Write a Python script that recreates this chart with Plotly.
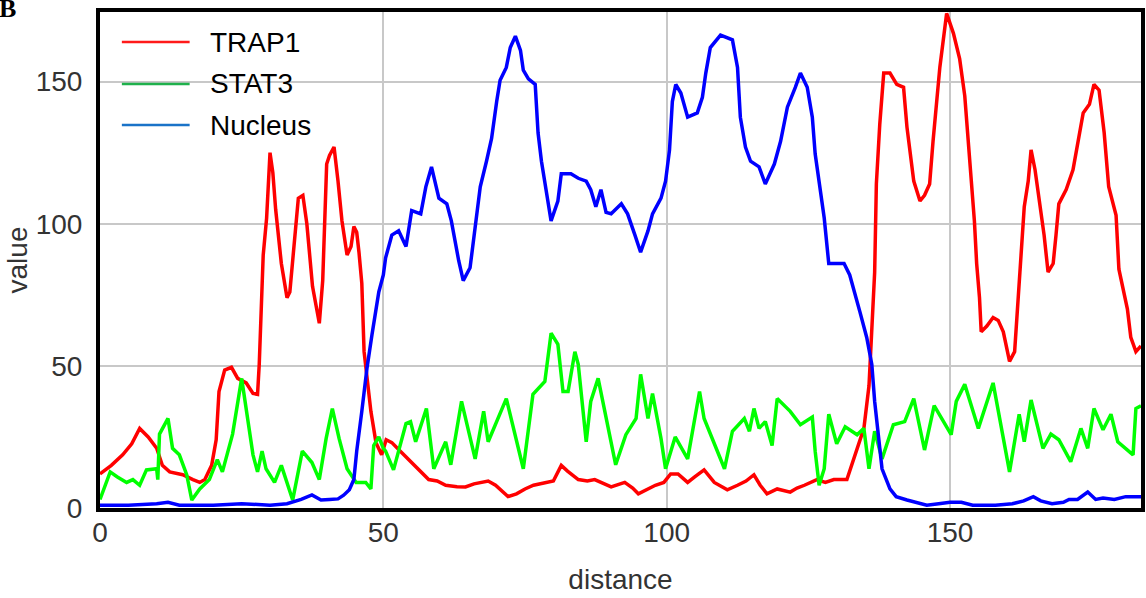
import plotly.graph_objects as go

# ---- profile data: distance along the line scan vs. intensity value ----
trap1_d = [0, 2, 4, 5.6, 7, 8.5, 10, 11, 12.3, 14.6, 16.4, 17.6, 18.5, 19.7, 20.5, 21, 22, 23.2, 24.3, 25.8,
           27, 27.8, 28.1, 28.5, 28.8, 29.4, 30, 30.5, 31, 32, 33, 33.5, 34.3, 35, 35.8, 36.5, 37.5, 38.7, 39.3, 40,
           40.5, 41.3, 42, 42.7, 43.6, 44.3, 44.8, 45.3, 45.7, 46.2, 46.6, 47.8, 48.7, 49.7, 50.5, 51.5, 53, 55, 56.5, 58,
           59.5, 61, 63, 64.5, 66, 67.3, 68.5, 69.8, 71, 72, 73.5, 75, 76.5, 78.5, 80, 81.4, 82.5, 84.4, 86, 87.3,
           89, 90.2, 92.6, 94, 95, 96.5, 98, 99.5, 100.7, 102, 103.7, 105, 106.6, 108.4, 110.7, 112.5, 114, 115.4, 116.5, 117.7,
           119.5, 121.8, 123, 124.3, 126.5, 128, 129.5, 131.8, 133, 134.8, 135.7, 136.2, 136.7, 137, 137.6, 138.3, 139.4, 140.6, 141.8, 142.4,
           143.6, 144.7, 145.5, 146.4, 147, 148.2, 149.4, 150.6, 151.7, 152.6, 153.1, 153.8, 154.3, 154.7, 155.2, 155.5, 156.5, 157.6, 158.5, 159.4,
           160.5, 161.4, 162, 162.6, 163.1, 163.8, 164.3, 165, 165.8, 166.6, 167.3, 168.2, 168.7, 169.2, 170.5, 171.7, 172.6, 173.5, 174.6, 175.4,
           176.3, 177.2, 178, 179.3, 179.8, 180.7, 181.3, 181.9, 182.8, 183.7]
trap1_v = [12, 15, 18.7, 22.6, 28, 25, 21, 15, 12.7, 11.7, 10, 9, 10, 15, 24, 41, 48.5, 49.5, 45.6, 44,
           40.3, 40, 50.5, 73, 89, 102, 125, 118, 105, 86, 74, 76, 95, 109, 110, 100, 78, 65, 80, 121,
           124, 127, 115, 101, 89, 92, 99, 97, 90, 79, 55, 34, 23, 18.7, 24, 23, 20, 16, 13, 10,
           9.5, 8, 7.5, 7.4, 8.5, 9, 9.5, 8, 6, 4, 5, 6.7, 8, 9, 9.5, 15, 13, 10, 9.5, 10,
           8.5, 7.4, 9, 7, 5, 6.5, 8, 9, 12, 12, 9, 11, 13.4, 9, 6.4, 8, 9.5, 11.7, 8, 5,
           6.7, 5.6, 7, 8, 10, 9, 10, 10, 17, 28, 43, 62, 83, 114, 135, 153, 153, 149, 148, 134,
           115, 108, 110, 114, 129, 155, 174, 167, 158, 145, 132, 116, 101, 86, 74, 62, 64, 67, 66, 62,
           51.6, 55, 73, 90, 106, 115, 126, 119, 108, 96, 83, 86, 96, 107, 112, 119, 129, 139, 142, 149,
           147, 132, 113, 103, 84, 75, 70, 60, 55, 57]

stat3_d = [0, 1.8, 3, 4.7, 5.8, 7, 8.2, 10, 10.2, 10.5, 12, 12.8, 14, 15.3, 16.2, 17.6, 19.3, 20.7, 21.6, 23.4,
           25, 26.4, 27, 27.8, 28.6, 29.3, 30.8, 32, 33, 34, 35.7, 37.4, 38.7, 39.9, 41, 42.2, 43.6, 45.2, 46.9, 47.8,
           48.3, 49.2, 50, 50.4, 51.8, 54, 54.8, 55.7, 57.6, 58.9, 61, 61.9, 63.8, 66.2, 67.7, 68.5, 71.7, 74.7, 76.4, 78.5,
           79.6, 80.8, 81.7, 82.6, 83.8, 84.4, 85.8, 86.6, 87.9, 90.2, 91, 92.8, 94.6, 95.4, 96.7, 97.5, 99, 99.8, 101.5, 103.7,
           105.8, 106.6, 110.2, 111.6, 113.7, 114.6, 115.4, 116.3, 117.4, 118.6, 119.5, 121.8, 123.6, 125.7, 126.2, 126.9, 127.8, 128.6, 130, 131.5,
           133.6, 134.8, 135.7, 136.7, 138, 140, 142, 143.6, 145.5, 147.2, 150.2, 151.1, 152.6, 155, 157.6, 160.5, 162.2, 163.1, 164.3, 166.4,
           167.8, 169.2, 171.3, 173.1, 174.3, 175.4, 177, 178.4, 179.6, 182.3, 182.8, 183.7]
stat3_v = [3, 12.7, 11, 9, 10, 8, 13.4, 13.8, 10, 26, 31.5, 21, 18.7, 11.7, 2.8, 6.7, 10, 17, 12.7, 26,
           45.6, 28, 18.7, 12.7, 20, 13.8, 9, 15, 9, 2.8, 20, 16, 10, 24.4, 35, 24.4, 13.8, 9, 9, 6.7,
           22, 25, 21, 20, 13.4, 29.7, 30.4, 23.3, 35, 13.8, 23.3, 15.2, 37.5, 17.3, 34, 23.3, 38.5, 13.8, 40, 44.5,
           61.5, 57.6, 41, 41, 55, 50.5, 23.3, 37.5, 45.6, 23.3, 15.2, 25.8, 31.5, 47, 31.5, 40.3, 24.4, 13.8, 25, 17.3,
           41, 31.5, 13.8, 27, 31.5, 27, 35, 28, 30.4, 22, 38.5, 34, 29.3, 32, 20, 8, 13.8, 33, 22.6, 28.6,
           25.8, 28, 13.8, 27, 17.3, 29.3, 30.4, 38.5, 20.4, 36, 25.8, 37.5, 43.5, 28, 44, 12.7, 33, 23.3, 38, 21,
           26, 24, 16.3, 28, 21, 35, 27.5, 33, 23.3, 18.7, 35, 36]

nucleus_d = [0, 5, 10, 12, 14, 20, 25, 30, 33, 34, 35.5, 37.4, 39, 40.5, 42, 43, 44, 44.8, 45.3, 46.2,
             47.1, 48, 49.2, 50, 50.4, 51.5, 52.7, 54, 55, 56.6, 57.5, 58.5, 59.8, 61.2, 62, 63.3, 64.1, 65.3, 66.2, 67.1,
             68.2, 69.1, 70, 70.6, 71.7, 72.4, 73.3, 74.2, 74.7, 75.6, 76.8, 77.3, 77.9, 78.7, 79.6, 80.8, 81.4, 83.1, 84.4, 85.8,
             86.6, 87.5, 88.4, 89.3, 90.2, 92, 93.1, 94.4, 95.4, 96.7, 97.5, 99, 99.8, 100.5, 101, 101.6, 102.5, 103.7, 105.4, 106.3,
             106.9, 107.7, 109.5, 111.6, 112.5, 113, 113.9, 114.8, 116.3, 117.4, 119, 120.1, 121.3, 122.7, 123.6, 124.8, 125.7, 126.2, 127.1, 127.8,
             128.6, 131.3, 132.3, 133.2, 134.1, 135.3, 136.2, 136.7, 137.4, 138, 139.4, 140.5, 142.4, 144, 145.9, 148, 150, 152, 154, 158,
             161, 163, 164.7, 166, 168, 170, 171, 172.5, 174.3, 175.7, 177, 179, 181, 183.7]
nucleus_v = [1, 1, 1.5, 2, 1, 1, 1.5, 1, 1.5, 2, 3, 4.6, 2.8, 3, 3.2, 4.5, 6.4, 10, 20, 34,
             49, 61, 76, 82, 88, 96, 97.5, 92, 104.6, 103.5, 113, 120, 109, 107, 101, 87, 80, 84.5, 100, 113,
             122, 130, 143, 150.5, 155, 162, 166, 161, 154, 151, 149, 132, 122, 112, 101, 108, 117.6, 117.6, 116, 115,
             112, 106, 112, 104, 103.5, 107, 103.5, 96, 90, 97.5, 103.5, 109, 115, 126, 143, 149, 146, 137.5, 139, 144.5,
             153, 162, 166.4, 164.7, 155, 137.5, 127, 122, 120, 114, 121, 129, 141, 148, 153, 148, 137.5, 124.6, 112, 102,
             86, 86, 82, 76, 69, 60, 50.5, 37.5, 24.4, 13.8, 6.7, 4, 2.8, 2, 1, 1.5, 2, 2, 1, 1,
             1.5, 2.5, 4, 2.5, 1.5, 2, 3, 3, 5.6, 3, 3.5, 3, 4, 4]

series_names = ["TRAP1", "STAT3", "Nucleus"]
line_colors = ["#ff0000", "#00ff00", "#0000ff"]
key_colors = ["#ff1a1a", "#1fb14c", "#1a73c8"]
x_ticks = [0, 50, 100, 150]
y_ticks = [0, 50, 100, 150]

FONT = "Liberation Sans, Arial, sans-serif"

fig = go.Figure()
for name, d, v, c in zip(series_names,
                         [trap1_d, stat3_d, nucleus_d],
                         [trap1_v, stat3_v, nucleus_v],
                         line_colors):
    fig.add_trace(go.Scatter(x=d, y=v, mode="lines", name=name,
                             line=dict(color=c, width=3.5), showlegend=False))

# hand-drawn key in the upper-left corner of the plot
key_y = [0.9395, 0.855, 0.772]
shapes = []
annotations = []
for name, c, ky in zip(series_names, key_colors, key_y):
    shapes.append(dict(type="line", xref="paper", yref="paper",
                       x0=0.021, x1=0.0861, y0=ky, y1=ky,
                       line=dict(color=c, width=2.5)))
    annotations.append(dict(xref="paper", yref="paper", x=0.1033, y=ky,
                            xanchor="left", yanchor="middle", showarrow=False,
                            text=name, font=dict(family=FONT, size=28, color="#000000")))

# panel letter
annotations.append(dict(xref="paper", yref="paper", x=-0.0985, y=1.04,
                        xanchor="left", yanchor="top", showarrow=False,
                        text="<b>B</b>",
                        font=dict(family="Liberation Serif, Times New Roman, serif",
                                  size=26, color="#000000")))

axis_common = dict(
    showgrid=True, gridcolor="#c8c8c8", gridwidth=2,
    showline=True, linecolor="#000000", linewidth=4, mirror=True,
    zeroline=False,
    tickfont=dict(family=FONT, size=28, color="#333333"),
)

fig.update_layout(
    width=1146, height=598,
    margin=dict(l=100, r=1, t=12, b=90),
    paper_bgcolor="#ffffff", plot_bgcolor="#ffffff",
    xaxis=dict(range=[0, 183.7], tickvals=x_ticks, ticks="", ticklabelstandoff=-4,
               title=dict(text="distance", standoff=24,
                          font=dict(family=FONT, size=28, color="#333333")),
               **axis_common),
    yaxis=dict(range=[0, 174.5], tickvals=y_ticks,
               ticks="outside", ticklen=8, tickcolor="rgba(0,0,0,0)",
               title=dict(text="value", standoff=1,
                          font=dict(family=FONT, size=28, color="#333333")),
               **axis_common),
    shapes=shapes,
    annotations=annotations,
)

fig.write_html("out.html")
